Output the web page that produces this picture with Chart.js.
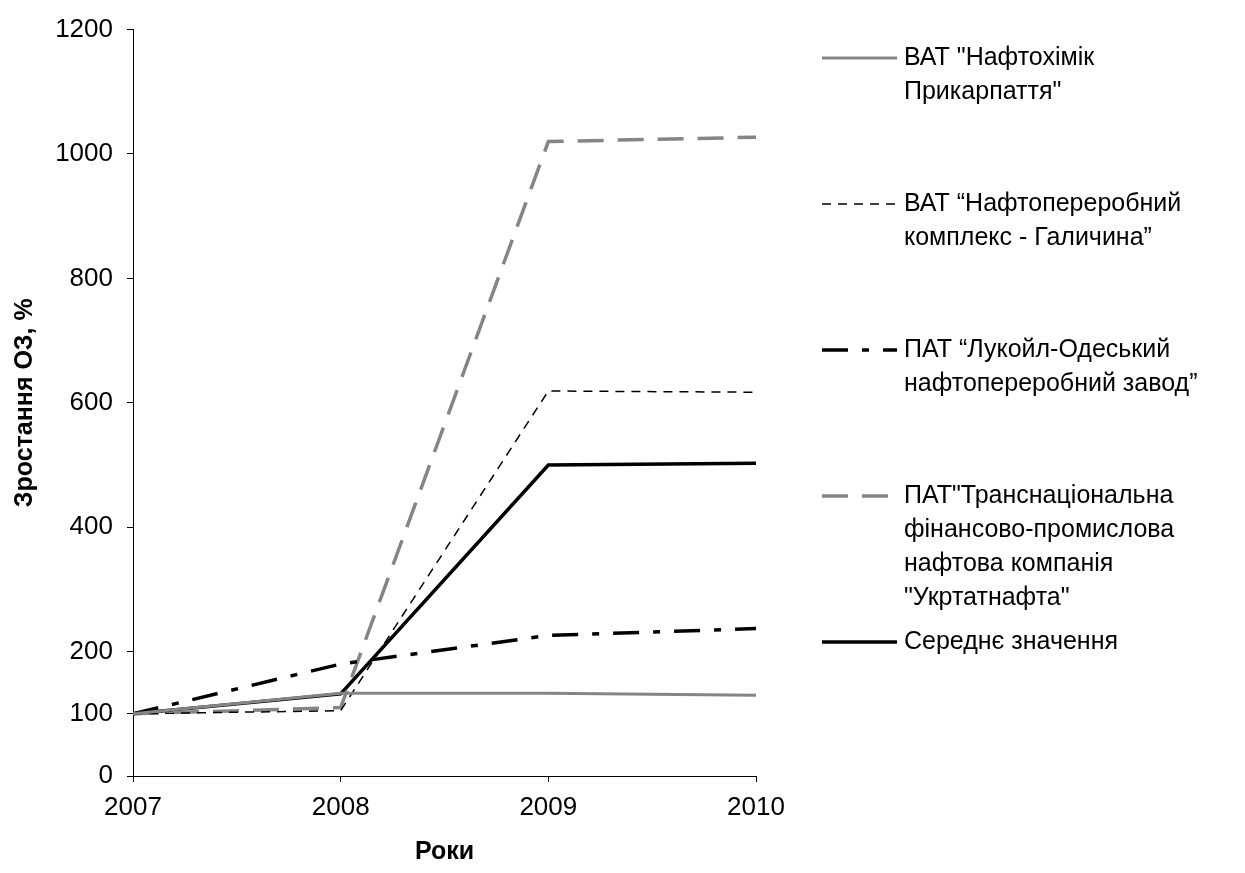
<!DOCTYPE html>
<html>
<head>
<meta charset="utf-8">
<script src="https://cdn.jsdelivr.net/npm/chart.js@4.4.1/dist/chart.umd.min.js"></script>
<style>
  html, body { margin: 0; padding: 0; background: #fff; }
  #wrap { width: 1245px; height: 873px; }
</style>
</head>
<body>
<div id="wrap"><canvas id="chart" width="1245" height="873"></canvas></div>
<script>
// роки та значення (зростання ОЗ, %)
const years = [2007, 2008, 2009, 2010];
const naftokhimik = [100, 133, 133, 130];
const halychyna = [100, 105, 619, 617];
const lukoil = [100, 180, 226, 237];
const ukrtatnafta = [100, 110, 1020, 1027];
const average = [100, 132, 500, 503];
const yTicks = [0, 100, 200, 400, 600, 800, 1000, 1200];

const legendLabels = [
  ['ВАТ "Нафтохімік', 'Прикарпаття"'],
  ['ВАТ “Нафтопереробний', 'комплекс - Галичина”'],
  ['ПАТ “Лукойл-Одеський', 'нафтопереробний завод”'],
  ['ПАТ"Транснаціональна', 'фінансово-промислова', 'нафтова компанія', '"Укртатнафта"'],
  ['Середнє значення']
];

const FONT = 'Arial, "Liberation Sans", sans-serif';

function pts(values) {
  return years.map((y, i) => ({ x: y, y: values[i] }));
}

// легенда праворуч, як у вихідному графіку
const sideLegend = {
  id: 'sideLegend',
  afterDraw(chart) {
    const ctx = chart.ctx;
    ctx.save();
    ctx.font = '25px ' + FONT;
    ctx.fillStyle = '#000';
    ctx.textBaseline = 'middle';
    chart.data.datasets.forEach((ds, i) => {
      const y0 = 58 + i * 146;
      ctx.beginPath();
      ctx.strokeStyle = ds.borderColor;
      ctx.lineWidth = ds.borderWidth;
      ctx.setLineDash(ds.borderDash || []);
      ctx.moveTo(822, y0);
      ctx.lineTo(897, y0);
      ctx.stroke();
      ctx.setLineDash([]);
      legendLabels[i].forEach((line, j) => {
        ctx.fillText(line, 904, y0 + j * 34);
      });
    });
    ctx.restore();
  }
};

new Chart(document.getElementById('chart'), {
  type: 'line',
  data: {
    datasets: [
      { label: legendLabels[0].join(' '), data: pts(naftokhimik), borderColor: '#858585', borderWidth: 3, borderDash: [] },
      { label: legendLabels[1].join(' '), data: pts(halychyna), borderColor: '#000', borderWidth: 1.5, borderDash: [9, 7] },
      { label: legendLabels[2].join(' '), data: pts(lukoil), borderColor: '#000', borderWidth: 3.5, borderDash: [26, 14, 7, 14] },
      { label: legendLabels[3].join(' '), data: pts(ukrtatnafta), borderColor: '#858585', borderWidth: 3.5, borderDash: [26, 14] },
      { label: legendLabels[4], data: pts(average), borderColor: '#000', borderWidth: 3.5, borderDash: [] }
    ]
  },
  options: {
    responsive: false,
    animation: false,
    elements: { point: { radius: 0 }, line: { tension: 0 } },
    layout: { padding: { left: 0, right: 489, top: 27, bottom: 0 } },
    plugins: { legend: { display: false }, tooltip: { enabled: false } },
    scales: {
      x: {
        type: 'linear',
        min: 2007,
        max: 2010,
        afterFit(scale) { scale.height = 97; },
        afterBuildTicks(scale) { scale.ticks = years.map(v => ({ value: v })); },
        ticks: { color: '#000', font: { family: FONT, size: 26 }, padding: 10, callback: v => String(v) },
        grid: { drawOnChartArea: false, color: '#000', tickLength: 6 },
        border: { color: '#000', width: 1 },
        title: { display: true, text: 'Роки', color: '#000', font: { family: FONT, size: 25, weight: 'bold' }, padding: { top: 8, bottom: 6 } }
      },
      y: {
        min: 0,
        max: 1200,
        afterFit(scale) { scale.width = 133; },
        afterBuildTicks(scale) { scale.ticks = yTicks.map(v => ({ value: v })); },
        ticks: { color: '#000', font: { family: FONT, size: 26 }, padding: 14, callback: v => String(v) },
        grid: { drawOnChartArea: false, color: '#000', tickLength: 6 },
        border: { color: '#000', width: 1 },
        title: { display: true, text: 'Зростання ОЗ, %', color: '#000', font: { family: FONT, size: 25, weight: 'bold' }, padding: { top: 10, bottom: 0 } }
      }
    }
  },
  plugins: [sideLegend]
});
</script>
</body>
</html>
